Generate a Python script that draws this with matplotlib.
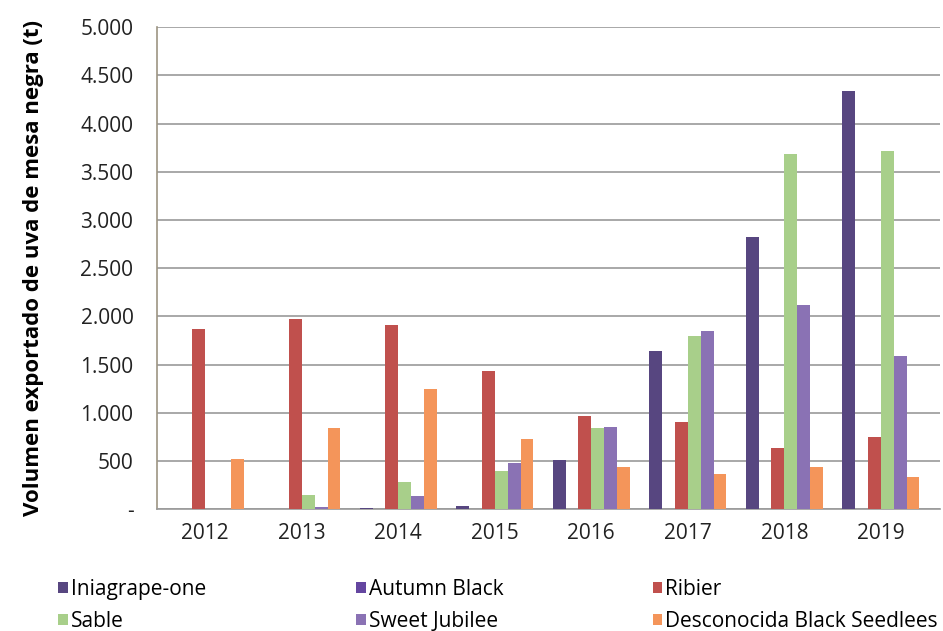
import numpy as np
import matplotlib.pyplot as plt
from matplotlib.ticker import FuncFormatter

plt.rcParams['font.family'] = ['Open Sans', 'DejaVu Sans']

# datos (t)
years = ['2012', '2013', '2014', '2015', '2016', '2017', '2018', '2019']
iniagrape = [0, 0, 10, 30, 515, 1640, 2820, 4340]
autumn_black = [0, 0, 0, 0, 0, 0, 0, 0]
ribier = [1870, 1970, 1910, 1430, 970, 905, 630, 745]
sable = [5, 150, 280, 395, 840, 1795, 3680, 3720]
sweet_jubilee = [0, 20, 135, 475, 850, 1845, 2115, 1590]
desconocida = [520, 840, 1250, 730, 435, 370, 435, 330]

series = [
    ('Iniagrape-one', iniagrape, '#574680'),
    ('Autumn Black', autumn_black, '#6446a0'),
    ('Ribier', ribier, '#c0504d'),
    ('Sable', sable, '#a8cf8a'),
    ('Sweet Jubilee', sweet_jubilee, '#8a72b4'),
    ('Desconocida Black Seedlees', desconocida, '#f4955a'),
]

fig = plt.figure(figsize=(9.43, 6.31), dpi=100)
ax = fig.add_axes([0.1665, 0.193, 0.83, 0.764])

x = np.arange(len(years))
w = 0.8 / len(series)
bars = []
for i, (name, vals, col) in enumerate(series):
    b = ax.bar(x - 0.4 + w * (i + 0.5), vals, width=w, color=col, label=name, zorder=3)
    bars.append(b)

ax.set_xlim(-0.5, 7.61)
ax.set_ylim(0, 5000)
ax.set_yticks(np.arange(0, 5001, 500))
ax.yaxis.set_major_formatter(FuncFormatter(
    lambda v, p: '-' if v == 0 else f'{int(v):,}'.replace(',', '.')))
ax.set_xticks(x)
ax.set_xticklabels(years)
ax.tick_params(axis='both', length=0, labelsize=15, colors='#222222')
ax.tick_params(axis='x', pad=10)
ax.tick_params(axis='y', pad=17)

ax.grid(axis='y', color='#9a9a9a', linewidth=1.2, zorder=0)
for s in ['top', 'right']:
    ax.spines[s].set_visible(False)
ax.spines['left'].set_color('#9d9583')
ax.spines['bottom'].set_color('#9a9a9a')
ax.spines['left'].set_linewidth(1.2)
ax.spines['bottom'].set_linewidth(1.2)

ax.set_ylabel('Volumen exportado de uva de mesa negra (t)', fontsize=16,
              fontweight='bold', labelpad=26)

# leyenda: tres columnas, orden por filas
col_x = [0.062, 0.378, 0.692]
for c in range(3):
    hs = [bars[c], bars[c + 3]]
    ls = [series[c][0], series[c + 3][0]]
    fig.legend(hs, ls, loc='upper left', bbox_to_anchor=(col_x[c], 0.082),
               frameon=False, fontsize=15, handlelength=0.45, handleheight=0.45,
               handletextpad=0.15, labelspacing=0.5, borderpad=0, borderaxespad=0)

fig.savefig('out.png', dpi=100)
